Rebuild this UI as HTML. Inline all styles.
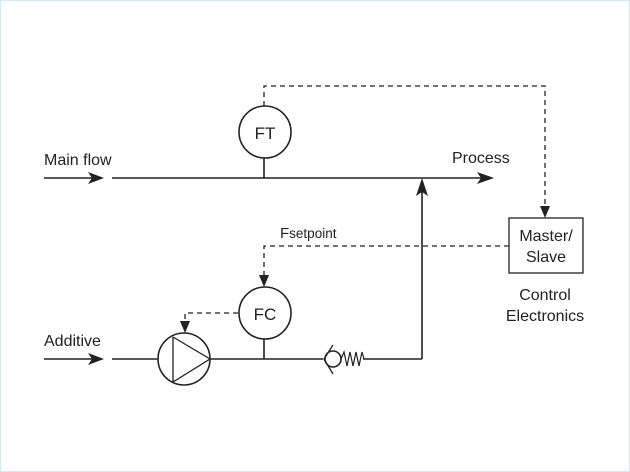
<!DOCTYPE html>
<html><head><style>
html,body{margin:0;padding:0;background:#fff;}
svg{display:block;}
text{font-family:"Liberation Sans",sans-serif;fill:#222;}
</style></head><body>
<svg width="630" height="472" viewBox="0 0 630 472" xmlns="http://www.w3.org/2000/svg">
<rect x="0.5" y="0.5" width="629" height="471" fill="#fff" stroke="#d6e8f0" stroke-width="1"/>
<g stroke="#222" stroke-width="1.6" fill="none">
<line x1="44" y1="178" x2="96" y2="178"/>
<line x1="112" y1="178" x2="484" y2="178"/>
<line x1="264" y1="157" x2="264" y2="178"/>
<ellipse cx="265" cy="132" rx="26" ry="26" fill="#fff"/>
<line x1="44" y1="359" x2="96" y2="359"/>
<line x1="112" y1="359" x2="158" y2="359"/>
<line x1="210" y1="359" x2="323" y2="359"/>
<line x1="363" y1="359" x2="422" y2="359"/>
<line x1="422" y1="359" x2="422" y2="190"/>
<line x1="264" y1="339" x2="264" y2="359"/>
<ellipse cx="265" cy="313" rx="26" ry="26" fill="#fff"/>
<circle cx="184" cy="359" r="26" fill="#fff"/>
<polyline points="173,337 210,359 173,382 173,337" stroke-width="1.3"/>
<circle cx="333" cy="359" r="8" fill="#fff"/>
<polyline points="333,345 324,359 333,374" stroke-width="1.3"/>
<polyline points="341,359 344,352 347,366 350,352 353,366 356,352 359,366 362,352 364,359" stroke-width="1.2"/>
<rect x="509" y="218" width="74" height="55" stroke-width="1.3"/>
</g>
<g stroke="#222" stroke-width="1.3" fill="none" stroke-dasharray="5,4">
<polyline points="264,106 264,86 545,86 545,208"/>
<polyline points="509,246 264,246 264,278"/>
<polyline points="238,313 185,313 185,323"/>
</g>
<g fill="#222">
<polygon points="104,178 88,172 92,178 88,184"/>
<polygon points="104,359 88,353 92,359 88,365"/>
<polygon points="494,178 477,172 481,178 477,184"/>
<polygon points="422,178 416,196 422,192 428,196"/>
<polygon points="545,218 540,206 550,206"/>
<polygon points="264,287 259,275 269,275"/>
<polygon points="185,333 180,321 190,321"/>
</g>
<g font-size="16">
<text x="44" y="165">Main flow</text>
<text x="452" y="163">Process</text>
<text x="44" y="346">Additive</text>
<text x="265" y="139" text-anchor="middle" font-size="17">FT</text>
<text x="265" y="320" text-anchor="middle" font-size="17">FC</text>
<text x="546" y="241" text-anchor="middle">Master/</text>
<text x="546" y="262" text-anchor="middle">Slave</text>
<text x="545" y="300" text-anchor="middle">Control</text>
<text x="545" y="321" text-anchor="middle">Electronics</text>
<text x="280" y="238" font-size="15">F<tspan font-size="13.5">setpoint</tspan></text>
</g>
</svg>
</body></html>
